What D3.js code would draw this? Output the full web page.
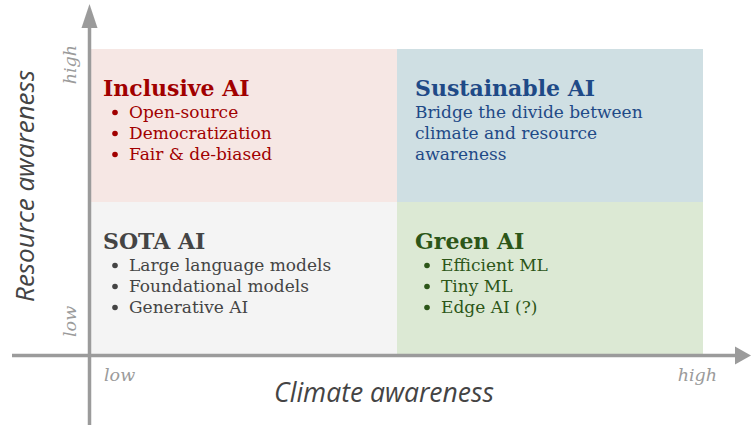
<!DOCTYPE html>
<html>
<head>
<meta charset="utf-8">
<script src="https://cdn.jsdelivr.net/npm/d3@7"></script>
<style>
  body { margin: 0; background: #fff; }
  svg { display: block; }
</style>
</head>
<body>
<svg id="chart" width="752" height="427"></svg>
<script>
// quadrant chart data
var climateLevels = ["low", "high"];
var resourceLevels = ["high", "low"];
var quadrantTitles = ["Inclusive AI", "Sustainable AI", "SOTA AI", "Green AI"];
var quadrantClimate = ["low", "high", "low", "high"];
var quadrantResource = ["high", "high", "low", "low"];
var quadrantLines = [
    ["Open-source", "Democratization", "Fair & de-biased"],
    ["Bridge the divide between", "climate and resource", "awareness"],
    ["Large language models", "Foundational models", "Generative AI"],
    ["Efficient ML", "Tiny ML", "Edge AI (?)"]
];
var quadrantBulleted = [true, false, true, true];
var quadrantFill = ["#f6e7e4", "#cfdfe3", "#f4f4f4", "#dce9d4"];
var quadrantInk = ["#a10000", "#1f4a87", "#444444", "#2c5618"];
var xAxisTitle = "Climate awareness";
var yAxisTitle = "Resource awareness";

var svg = d3.select("#chart");
var serif = "'DejaVu Serif', serif";
var sans = "'Open Sans', sans-serif";
var axisColor = "#9b9b9b";

var x = d3.scaleBand().domain(climateLevels).range([91, 703]);
var y = d3.scaleBand().domain(resourceLevels).range([49, 355]);

// text inset from the left edge of each column (left column sits next to the axis)
var inset = { low: 12, high: 18 };

var data = quadrantTitles.map(function(t, i) {
    return {
        title: t,
        climate: quadrantClimate[i],
        resource: quadrantResource[i],
        lines: quadrantLines[i],
        bullet: quadrantBulleted[i],
        fill: quadrantFill[i],
        ink: quadrantInk[i]
    };
});

var quads = svg.append("g")
    .selectAll("g")
    .data(data)
  .enter().append("g")
    .attr("transform", function(d) {
        return "translate(" + x(d.climate) + "," + y(d.resource) + ")";
    });

quads.append("rect")
    .attr("width", x.bandwidth())
    .attr("height", y.bandwidth())
    .attr("fill", function(d) { return d.fill; });

quads.append("text")
    .attr("x", function(d) { return inset[d.climate]; })
    .attr("y", 47)
    .attr("font-family", serif)
    .attr("font-weight", "bold")
    .attr("font-size", 22)
    .attr("fill", function(d) { return d.ink; })
    .text(function(d) { return d.title; });

quads.each(function(d) {
    var g = d3.select(this);
    var left = inset[d.climate];
    d.lines.forEach(function(line, j) {
        var by = 68.5 + j * 21;
        if (d.bullet) {
            g.append("circle")
                .attr("cx", left + 12)
                .attr("cy", by - 5)
                .attr("r", 2.8)
                .attr("fill", d.ink);
        }
        g.append("text")
            .attr("x", d.bullet ? left + 26 : left)
            .attr("y", by)
            .attr("font-family", serif)
            .attr("font-size", 17)
            .attr("fill", d.ink)
            .text(line);
    });
});

// axes with arrow heads
var axes = svg.append("g");
var x0 = x.range()[0] - 1.5;
var y0 = y.range()[1] + 0.5;

axes.append("line")
    .attr("x1", x0).attr("y1", 425)
    .attr("x2", x0).attr("y2", 26)
    .attr("stroke", axisColor).attr("stroke-width", 3.5);
axes.append("path")
    .attr("d", "M" + x0 + ",4L" + (x0 + 8) + ",28L" + (x0 - 8) + ",28Z")
    .attr("fill", axisColor);

axes.append("line")
    .attr("x1", 12).attr("y1", y0)
    .attr("x2", 737).attr("y2", y0)
    .attr("stroke", axisColor).attr("stroke-width", 3.5);
axes.append("path")
    .attr("d", "M751," + y0 + "L735," + (y0 - 9) + "L735," + (y0 + 9) + "Z")
    .attr("fill", axisColor);

// low/high labels
svg.append("g")
    .selectAll("text")
    .data(climateLevels)
  .enter().append("text")
    .attr("x", function(d, i) { return i === 0 ? x(d) + 13 : x(d) + x.bandwidth() + 14; })
    .attr("y", 381)
    .attr("text-anchor", function(d, i) { return i === 0 ? "start" : "end"; })
    .attr("font-family", serif)
    .attr("font-style", "italic")
    .attr("font-size", 17.5)
    .attr("fill", axisColor)
    .text(function(d) { return d; });

svg.append("g")
    .selectAll("text")
    .data(resourceLevels)
  .enter().append("text")
    .attr("transform", function(d, i) {
        var yy = i === 0 ? y(d) - 4 : y(d) + y.bandwidth() - 18;
        return "translate(76," + yy + ") rotate(-90)";
    })
    .attr("text-anchor", function(d, i) { return i === 0 ? "end" : "start"; })
    .attr("font-family", serif)
    .attr("font-style", "italic")
    .attr("font-size", 17.5)
    .attr("fill", axisColor)
    .text(function(d) { return d; });

// axis titles
svg.append("text")
    .attr("x", 384)
    .attr("y", 402)
    .attr("text-anchor", "middle")
    .attr("font-family", sans)
    .attr("font-style", "italic")
    .attr("font-size", 26.5)
    .attr("fill", "#444")
    .text(xAxisTitle);

svg.append("text")
    .attr("transform", "translate(34,186) rotate(-90)")
    .attr("text-anchor", "middle")
    .attr("font-family", sans)
    .attr("font-style", "italic")
    .attr("font-size", 26)
    .attr("fill", "#444")
    .text(yAxisTitle);
</script>
</body>
</html>
